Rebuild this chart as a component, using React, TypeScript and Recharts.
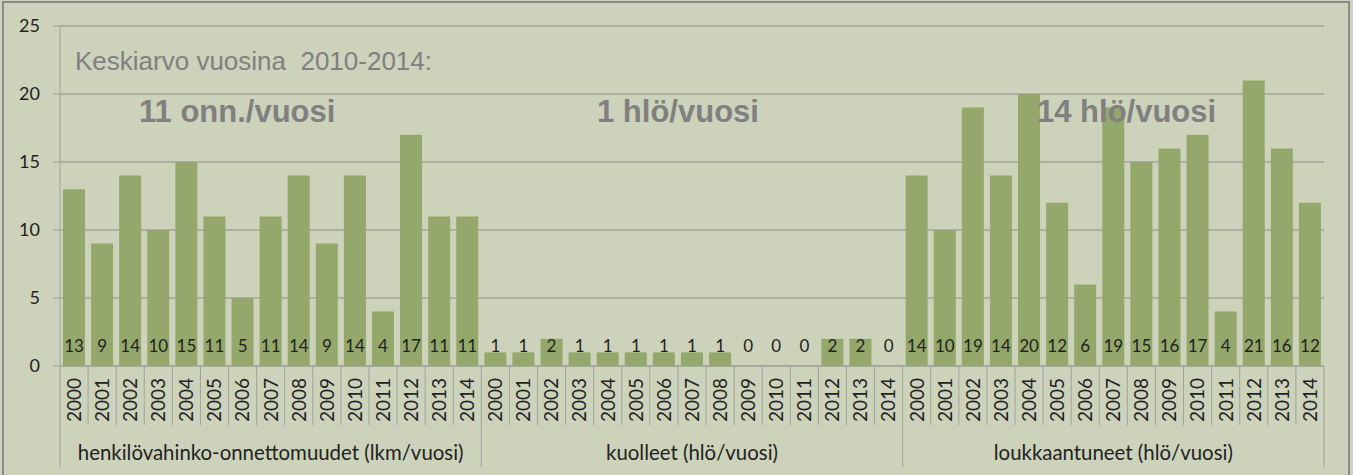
import React from 'react';
import { BarChart, Bar, XAxis, YAxis, CartesianGrid } from 'recharts';

const years = ['2000', '2001', '2002', '2003', '2004', '2005', '2006', '2007', '2008', '2009', '2010', '2011', '2012', '2013', '2014'];
const groups = [
  'henkilövahinko-onnettomuudet (lkm/vuosi)',
  'kuolleet (hlö/vuosi)',
  'loukkaantuneet (hlö/vuosi)',
];
const accidents = [13, 9, 14, 10, 15, 11, 5, 11, 14, 9, 14, 4, 17, 11, 11];
const killed = [1, 1, 2, 1, 1, 1, 1, 1, 1, 0, 0, 0, 2, 2, 0];
const injured = [14, 10, 19, 14, 20, 12, 6, 19, 15, 16, 17, 4, 21, 16, 12];
const yTicks = [0, 5, 10, 15, 20, 25];

const series = [accidents, killed, injured];
const data = series.flatMap((vals, g) =>
  vals.map((v, i) => ({ key: `${g}-${i}`, year: years[i], group: groups[g], value: v }))
);

const W = 1353;
const H = 475;
const LEFT = 60;
const RIGHT = 29;
const TOP = 26;
const AXIS_H = 109;
const colW = (W - LEFT - RIGHT) / data.length;

const BG = '#CDD2BB';
const BAR = '#93A86A';
const GRID = '#8C8C8C';
const SEP = '#A0A39A';
const TXT = '#222222';
const NOTE = '#808080';

// year labels, separators, group names and the value labels (zeros included)
function YearTick(props: any) {
  const { x, y, payload } = props;
  const i = payload.index;
  const item = data[i];
  const left = x - colW / 2;
  const right = x + colW / 2;
  const startOfGroup = i % 15 === 0;
  return (
    <g>
      <text x={x} y={y - 14} textAnchor="middle" fontFamily="Lato" fontSize={17} fill={TXT}>
        {item.value}
      </text>
      <line x1={left} x2={left} y1={y} y2={startOfGroup ? y + 101 : y + 59} stroke={SEP} />
      {i === data.length - 1 && <line x1={right} x2={right} y1={y} y2={y + 101} stroke={SEP} />}
      <text
        transform={`translate(${x},${y + 12}) rotate(-90)`}
        textAnchor="end"
        dy="0.36em"
        fontFamily="Lato"
        fontSize={19}
        fill={TXT}
      >
        {item.year}
      </text>
      {i % 15 === 7 && (
        <text x={x} y={y + 94} textAnchor="middle" fontFamily="Lato" fontSize={20.4} fill={TXT}>
          {item.group}
        </text>
      )}
    </g>
  );
}

const noteStyle: React.CSSProperties = {
  position: 'absolute',
  fontFamily: '"Liberation Sans", Arial, sans-serif',
  color: NOTE,
  whiteSpace: 'pre',
  lineHeight: 1,
  pointerEvents: 'none',
};

export default function App() {
  return (
    <div style={{ position: 'absolute', left: 0, top: 0, width: W, height: H, background: BG, overflow: 'hidden' }}>
      <BarChart
        width={W}
        height={H}
        data={data}
        margin={{ top: TOP, right: RIGHT, left: 0, bottom: 0 }}
        barSize={22}
      >
        <CartesianGrid vertical={false} stroke={GRID} />
        <Bar dataKey="value" fill={BAR} isAnimationActive={false} />
        <XAxis
          dataKey="key"
          interval={0}
          height={AXIS_H}
          tickSize={0}
          tickMargin={0}
          tick={<YearTick />}
          axisLine={{ stroke: SEP }}
        />
        <YAxis
          width={LEFT}
          domain={[0, 25]}
          ticks={yTicks}
          interval={0}
          tickSize={7}
          tickMargin={13}
          axisLine={{ stroke: SEP }}
          tickLine={{ stroke: SEP }}
          tick={{ fill: TXT, fontFamily: 'Lato', fontSize: 18 }}
        />
      </BarChart>
      <div style={{ ...noteStyle, left: 75, top: 48, fontSize: 26 }}>Keskiarvo vuosina  2010-2014:</div>
      <div style={{ ...noteStyle, left: 139, top: 96, fontSize: 31, fontWeight: 'bold' }}>11 onn./vuosi</div>
      <div style={{ ...noteStyle, left: 597, top: 96, fontSize: 31, fontWeight: 'bold' }}>1 hlö/vuosi</div>
      <div style={{ ...noteStyle, left: 1037, top: 96, fontSize: 31, fontWeight: 'bold' }}>14 hlö/vuosi</div>
      <div
        style={{
          position: 'absolute',
          left: 2,
          top: 1,
          width: W - 9,
          height: H + 10,
          border: '2px solid #8A8A8A',
          pointerEvents: 'none',
        }}
      />
    </div>
  );
}
